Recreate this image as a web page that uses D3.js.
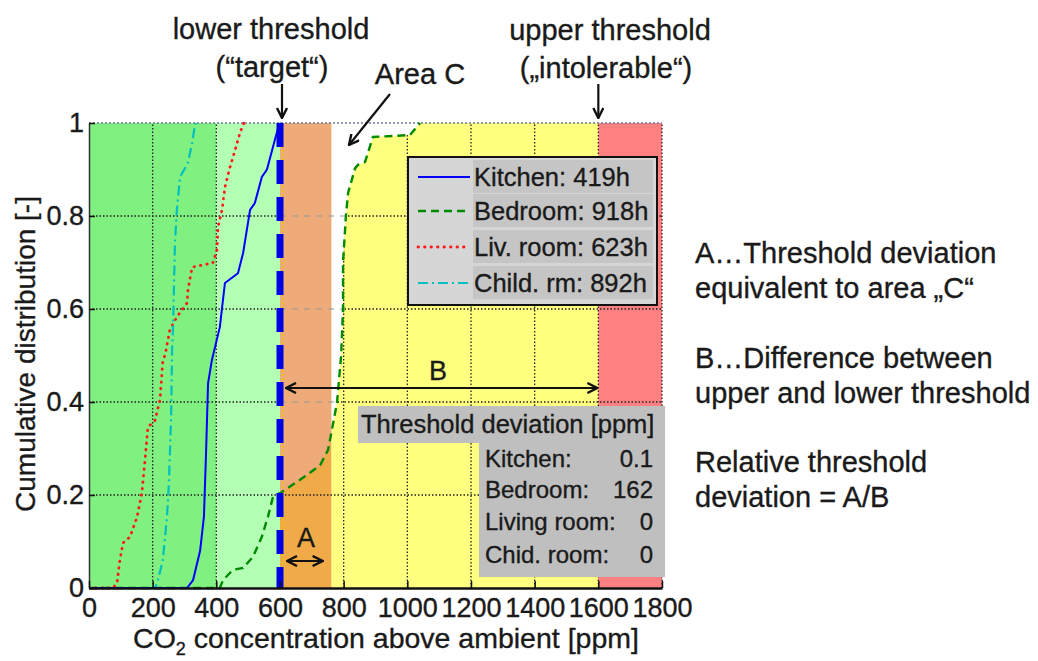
<!DOCTYPE html>
<html><head><meta charset="utf-8">
<script src="https://cdn.jsdelivr.net/npm/d3@7"></script>
<style>
html,body{margin:0;padding:0;background:#fff;}
svg text{font-family:"Liberation Sans",Arial,sans-serif;fill:#1a1a1a;stroke:#1a1a1a;stroke-width:0.35px;}
</style></head>
<body>
<svg id="chart" width="1038" height="661"></svg>
<script>
// ---------- data ----------
const kitchen = [[0,0],[308,0],[327,0.017],[349,0.08],[361,0.153],[368,0.297],[374,0.44],[386,0.49],[411,0.561],[427,0.656],[468,0.677],[484,0.72],[506,0.813],[521,0.828],[543,0.884],[559,0.9],[584,0.964],[597,0.996],[603,1]];
const bedroom = [[0,0],[411,0],[421,0.017],[452,0.039],[484,0.043],[515,0.067],[543,0.11],[562,0.153],[578,0.196],[600,0.204],[672,0.237],[726,0.264],[751,0.297],[763,0.34],[779,0.398],[792,0.5],[798,0.6],[798,0.7],[807,0.8],[814,0.85],[836,0.903],[845,0.91],[867,0.916],[892,0.97],[1008,0.974],[1040,1]];
const livingRoom = [[0,0],[75,0],[88,0.01],[97,0.06],[107,0.097],[129,0.11],[151,0.153],[166,0.204],[176,0.275],[185,0.346],[207,0.36],[223,0.404],[232,0.49],[239,0.501],[254,0.555],[276,0.583],[292,0.598],[308,0.613],[311,0.641],[324,0.69],[389,0.699],[402,0.727],[405,0.776],[418,0.813],[427,0.862],[443,0.905],[459,0.942],[474,0.978],[484,0.996],[487,1]];
const childRoom = [[0,0],[207,0],[214,0.01],[232,0.06],[245,0.153],[251,0.226],[258,0.368],[261,0.512],[264,0.561],[270,0.742],[276,0.813],[286,0.884],[302,0.903],[311,0.916],[324,0.957],[333,0.996],[336,1]];

const legendLabels = ["Kitchen: 419h","Bedroom: 918h","Liv. room: 623h","Child. rm: 892h"];
const deviationRooms = ["Kitchen:","Bedroom:","Living room:","Chid. room:"];
const deviationValues = ["0.1","162","0","0"];

const lowerThreshold = 600, upperThreshold = 1600, deviationA = 162;
const zoneStarts = [0,400,600,762,1600];
const zoneEnds   = [400,600,762,1600,1800];
const zoneColors = ["#80f080","#b3ffb3","#f0ab48","#ffff80","#ff8080"];

const xTicks = [0,200,400,600,800,1000,1200,1400,1600,1800];
const yTicks = [0,0.2,0.4,0.6,0.8,1];
const yTickLabels = ["0","0.2","0.4","0.6","0.8","1"];

// ---------- setup ----------
const svg = d3.select("#chart");
const x = d3.scaleLinear().domain([0,1800]).range([89,662]);
const y = d3.scaleLinear().domain([0,1]).range([588,123]);
const defs = svg.append("defs");

defs.append("marker").attr("id","ah").attr("viewBox","0 0 12 12").attr("refX",11).attr("refY",6)
  .attr("markerWidth",12).attr("markerHeight",12).attr("markerUnits","userSpaceOnUse").attr("orient","auto-start-reverse")
  .append("path").attr("d","M1,1 L11,6 L1,11").attr("fill","none").attr("stroke","#111").attr("stroke-width",2.4);

defs.append("clipPath").attr("id","bandClip").append("rect")
  .attr("x",x(lowerThreshold)).attr("y",y(1)).attr("width",x(lowerThreshold+deviationA)-x(lowerThreshold)).attr("height",y(0)-y(1));
defs.append("clipPath").attr("id","yellowClip").append("rect")
  .attr("x",x(lowerThreshold+deviationA)).attr("y",y(1)).attr("width",x(upperThreshold)-x(lowerThreshold+deviationA)).attr("height",y(0)-y(1));
defs.append("clipPath").attr("id","plotClip").append("rect")
  .attr("x",x(0)).attr("y",y(1)-3).attr("width",x(1800)-x(0)+3).attr("height",y(0)-y(1)+6);

// backgrounds
svg.append("g").selectAll("rect").data(zoneStarts).join("rect")
  .attr("x",d=>x(d)).attr("y",y(1)).attr("width",(d,i)=>x(zoneEnds[i])-x(d)).attr("height",y(0)-y(1))
  .attr("fill",(d,i)=>zoneColors[i]);

// black dotted grid
const grid = svg.append("g").attr("stroke","#222").attr("stroke-width",1.3).attr("stroke-dasharray","1.5,2");
grid.selectAll("line.v").data(xTicks.filter(d=>d>0 && d!==lowerThreshold)).join("line")
  .attr("x1",d=>x(d)).attr("x2",d=>x(d)).attr("y1",y(0)).attr("y2",y(1));
grid.selectAll("line.h").data(yTicks.filter(d=>d>0 && d<1)).join("line")
  .attr("x1",x(0)).attr("x2",x(1800)).attr("y1",d=>y(d)).attr("y2",d=>y(d));

// area above bedroom curve beyond lower threshold
const above = bedroom.filter(d=>d[0]>=lowerThreshold);
const abovePoly = above.concat([[lowerThreshold,1]]);
const polyLine = d3.line().x(d=>x(d[0])).y(d=>y(d[1]));
svg.append("path").attr("d",polyLine(abovePoly)+"Z").attr("fill","#eeaa78").attr("clip-path","url(#bandClip)");
svg.append("path").attr("d",polyLine(abovePoly)+"Z").attr("fill","#ffffff").attr("clip-path","url(#yellowClip)");
defs.append("clipPath").attr("id","aboveClip").append("path").attr("d",polyLine(abovePoly)+"Z");
const g2 = svg.append("g").attr("clip-path","url(#aboveClip)")
  .append("g").attr("stroke","#999").attr("stroke-width",1).attr("stroke-dasharray","6,6");
g2.selectAll("line").data(yTicks.filter(d=>d>0 && d<1)).join("line")
  .attr("x1",x(lowerThreshold)).attr("x2",x(upperThreshold)).attr("y1",d=>y(d)).attr("y2",d=>y(d));

// top frame (dotted)
svg.append("line").attr("x1",x(0)).attr("x2",x(1800)).attr("y1",y(1)).attr("y2",y(1))
  .attr("stroke","#6a7a9a").attr("stroke-width",1.6).attr("stroke-dasharray","2,2");

// thin yellow dotted line next to threshold
svg.append("line").attr("x1",x(lowerThreshold)+3).attr("x2",x(lowerThreshold)+3).attr("y1",y(0)).attr("y2",y(1))
  .attr("stroke","#e8c800").attr("stroke-width",1.5).attr("stroke-dasharray","2,2");

// curves
const line = d3.line().x(d=>x(d[0])).y(d=>y(d[1]));
const series = [
  {data:bedroom, color:"#008a00", w:2.4, dash:"8,5", cap:"butt"},
  {data:livingRoom, color:"#ff1a1a", w:2.8, dash:"0.5,6", cap:"round"},
  {data:childRoom, color:"#00c0c0", w:2.2, dash:"10,4,2,4", cap:"butt"},
  {data:kitchen, color:"#0000ff", w:2, dash:null, cap:"butt"}
];
const curves = svg.append("g").attr("clip-path","url(#plotClip)");
series.forEach(s=>{
  curves.append("path").attr("d",line(s.data)).attr("fill","none").attr("stroke",s.color)
    .attr("stroke-width",s.w).attr("stroke-dasharray",s.dash).attr("stroke-linecap",s.cap);
});

// lower threshold thick dashed line
svg.append("line").attr("x1",x(lowerThreshold)).attr("x2",x(lowerThreshold)).attr("y1",y(1)).attr("y2",y(0))
  .attr("stroke","#0000e6").attr("stroke-width",7).attr("stroke-dasharray","24,13");

// axes
const yAxis = svg.append("g").attr("transform",`translate(${x(0)},0)`)
  .call(d3.axisLeft(y).tickValues(yTicks).tickFormat((d,i)=>yTickLabels[i]).tickSizeInner(-6).tickSizeOuter(0).tickPadding(5));
const xAxis = svg.append("g").attr("transform",`translate(0,${y(0)})`)
  .call(d3.axisBottom(x).tickValues(xTicks).tickFormat(d3.format("d")).tickSizeInner(-7).tickSizeOuter(0).tickPadding(10));
[yAxis,xAxis].forEach(a=>{
  a.selectAll("text").style("font-size","27px").attr("fill","#111");
  a.selectAll(".tick line").attr("stroke","#111").attr("stroke-width",1.5);
});
yAxis.select(".domain").attr("stroke","#333").attr("stroke-width",1.5);
xAxis.select(".domain").attr("stroke","#111").attr("stroke-width",2.5);
xAxis.selectAll(".tick text").attr("dy","0.71em");

// axis titles
svg.append("text").attr("transform","translate(35,354) rotate(-90)").attr("text-anchor","middle")
  .style("font-size","28px").text("Cumulative distribution [-]");
const xt = svg.append("text").attr("x",386).attr("y",648).attr("text-anchor","middle").style("font-size","28.5px");
xt.append("tspan").text("CO");
xt.append("tspan").attr("dy",7).style("font-size","18px").text("2");
xt.append("tspan").attr("dy",-7).text(" concentration above ambient [ppm]");

// legend
const lg = svg.append("g");
lg.append("rect").attr("x",408).attr("y",157).attr("width",249).attr("height",148).attr("fill","#d6d6d6").attr("stroke","#111").attr("stroke-width",2);
const rowY = [177,211,247,283];
const legOrder = [3,0,1,2];
legendLabels.forEach((t,i)=>{
  const s = series[legOrder[i]];
  lg.append("rect").attr("x",473).attr("y",rowY[i]-17).attr("width",180).attr("height",33).attr("fill","#c5c5c5");
  lg.append("line").attr("x1",418).attr("x2",470).attr("y1",rowY[i]).attr("y2",rowY[i])
    .attr("stroke",s.color).attr("stroke-width",s.w).attr("stroke-dasharray",s.dash).attr("stroke-linecap",s.cap);
  lg.append("text").attr("x",474).attr("y",rowY[i]+9).style("font-size","25.5px").text(t);
});

// threshold deviation box
const tb = svg.append("g");
tb.append("rect").attr("x",358).attr("y",406).attr("width",307).attr("height",37).attr("fill","#bfbfbf");
tb.append("rect").attr("x",479).attr("y",443).attr("width",186).attr("height",134).attr("fill","#bfbfbf");
tb.append("text").attr("x",361).attr("y",433).style("font-size","25.5px").text("Threshold deviation [ppm]");
const tRows = [467,498,530,563];
deviationRooms.forEach((r,i)=>{
  tb.append("text").attr("x",485).attr("y",tRows[i]).style("font-size","24px").text(r);
  tb.append("text").attr("x",653).attr("y",tRows[i]).attr("text-anchor","end").style("font-size","24px").text(deviationValues[i]);
});

// arrows and annotations
const arr = svg.append("g").attr("stroke","#111").attr("stroke-width",2.2).attr("fill","none");
arr.append("line").attr("x1",x(lowerThreshold)+2).attr("y1",84).attr("x2",x(lowerThreshold)+2).attr("y2",118).attr("marker-end","url(#ah)");
arr.append("line").attr("x1",x(upperThreshold)).attr("y1",84).attr("x2",x(upperThreshold)).attr("y2",118).attr("marker-end","url(#ah)");
arr.append("line").attr("x1",390).attr("y1",94).attr("x2",349).attr("y2",145).attr("marker-end","url(#ah)");
arr.append("line").attr("x1",x(lowerThreshold)+6).attr("y1",388).attr("x2",x(upperThreshold)-1).attr("y2",388)
  .attr("marker-start","url(#ah)").attr("marker-end","url(#ah)");
arr.append("line").attr("x1",x(lowerThreshold)+7).attr("y1",561).attr("x2",x(lowerThreshold+deviationA)-9).attr("y2",561)
  .attr("marker-start","url(#ah)").attr("marker-end","url(#ah)");

const ann = [
  {t:"lower threshold", x:271, y:39, s:29},
  {t:"(“target“)", x:272, y:77, s:29},
  {t:"Area C", x:420, y:84, s:29},
  {t:"upper threshold", x:610, y:40, s:29},
  {t:"(„intolerable“)", x:606, y:78, s:29},
  {t:"B", x:438, y:380, s:27},
  {t:"A", x:306, y:547, s:27}
];
ann.forEach(a=>svg.append("text").attr("x",a.x).attr("y",a.y).attr("text-anchor","middle").style("font-size",a.s+"px").text(a.t));

const side = [
  {t:"A…Threshold deviation", y:263},
  {t:"equivalent to area „C“", y:298},
  {t:"B…Difference between", y:368},
  {t:"upper and lower threshold", y:403},
  {t:"Relative threshold", y:472},
  {t:"deviation = A/B", y:507}
];
side.forEach(s=>svg.append("text").attr("x",695).attr("y",s.y).style("font-size","29px").text(s.t));
</script>
</body></html>
